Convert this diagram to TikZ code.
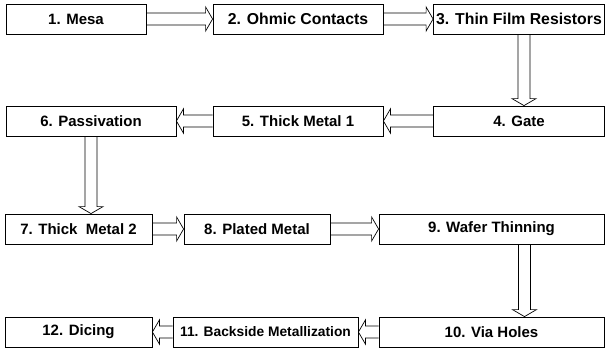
\documentclass[tikz,border=0pt]{standalone}
\usepackage{fontspec}
\setmainfont{Liberation Sans}
\usetikzlibrary{calc}
\usetikzlibrary{positioning}

\tikzset{
  proc/.style={draw, line width=0.8pt, minimum height=30pt, inner sep=0pt,
    font=\fontsize{15}{17}\selectfont\bfseries},
  big/.style={font=\fontsize{15.8}{18}\selectfont\bfseries},
  small/.style={font=\fontsize{13.8}{16}\selectfont\bfseries},
  flow/.style={draw, line width=0.7pt, line join=miter}
}

% hollow block arrow from #1 to #2
\newcommand{\flowarrow}[2]{%
  \coordinate (hb) at ($(#2)!7pt!(#1)$);
  \draw[flow] ($(#1)!6pt!90:(#2)$) -- ($(hb)!6pt!-90:(#1)$)
    -- ($(hb)!12pt!-90:(#1)$) -- (#2) -- ($(hb)!12pt!90:(#1)$)
    -- ($(hb)!6pt!90:(#1)$) -- ($(#1)!6pt!-90:(#2)$);
}

\begin{document}
\begin{tikzpicture}[x=1pt,y=-1pt]
  \useasboundingbox (0,0) rectangle (607,353);

  % row 1
  \node[proc, minimum width=140pt] (p_1) at (76,19)    {1. Mesa};
  \node[proc, big, minimum width=170pt] (p_2) at (298,19)   {2. Ohmic Contacts};
  \node[proc, big, minimum width=171pt] (p_3) at (519,19)   {3. Thin Film Resistors};
  % row 2
  \node[proc, minimum width=170pt] (p_6) at (91,121)   {6. Passivation};
  \node[proc, minimum width=170pt] (p_5) at (298,121)  {5. Thick Metal 1};
  \node[proc, minimum width=171pt] (p_4) at (519,121)  {4. Gate};
  % row 3
  \node[proc, minimum width=147pt] (p_7) at (78.5,229) {7. Thick\ \ Metal 2};
  \node[proc, minimum width=146pt] (p_8) at (257,229)  {8. Plated Metal};
  \node[proc, minimum width=225pt] (p_9) at (491.5,229) {9. Wafer Thinning};
  % row 4
  \node[proc, minimum width=147pt] (p_12) at (78.5,332) {12. Dicing};
  \node[proc, small, minimum width=185pt] (p_11) at (265.5,332) {11. Backside Metallization};
  \node[proc, minimum width=225pt] (p_10) at (491.5,332) {10. Via Holes};

  \coordinate (d_3) at ([xshift=5pt]p_3.south);
  \coordinate (u_4) at (d_3 |- p_4.north);
  \coordinate (u_7) at (p_6.south |- p_7.north);
  \coordinate (d_9) at ([xshift=33pt]p_9.south);
  \coordinate (u_10) at (d_9 |- p_10.north);

  \flowarrow{p_1.east}{p_2.west}
  \flowarrow{p_2.east}{p_3.west}
  \flowarrow{d_3}{u_4}
  \flowarrow{p_4.west}{p_5.east}
  \flowarrow{p_5.west}{p_6.east}
  \flowarrow{p_6.south}{u_7}
  \flowarrow{p_7.east}{p_8.west}
  \flowarrow{p_8.east}{p_9.west}
  \flowarrow{d_9}{u_10}
  \flowarrow{p_10.west}{p_11.east}
  \flowarrow{p_11.west}{p_12.east}
\end{tikzpicture}
\end{document}
